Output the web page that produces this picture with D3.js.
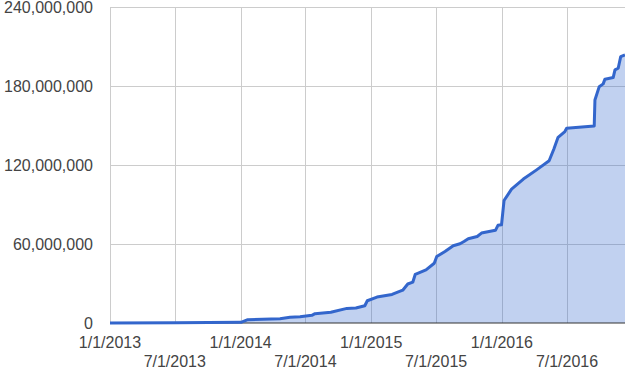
<!DOCTYPE html>
<html>
<head>
<meta charset="utf-8">
<script src="https://cdn.jsdelivr.net/npm/d3@7.9.0/dist/d3.min.js"></script>
<style>
  html, body { margin: 0; padding: 0; background: #fff; }
  svg { display: block; font-family: Arial, "Liberation Sans", sans-serif; }
</style>
</head>
<body>
<svg id="chart" width="625" height="371"></svg>
<script>
// data (cumulative total)
const dates = [
  "2013-01-01", "2013-07-04", "2014-01-02", "2014-01-21", "2014-04-21",
  "2014-05-19", "2014-06-16", "2014-07-19", "2014-07-28", "2014-09-10",
  "2014-10-25", "2014-11-19", "2014-12-14", "2014-12-21", "2015-01-17",
  "2015-02-28", "2015-03-30", "2015-04-13", "2015-04-27", "2015-05-04",
  "2015-06-03", "2015-06-26", "2015-07-03", "2015-07-26", "2015-08-18",
  "2015-09-06", "2015-09-17", "2015-09-29", "2015-10-24", "2015-11-05",
  "2015-12-14", "2015-12-21", "2015-12-31", "2016-01-07", "2016-01-28",
  "2016-03-01", "2016-04-07", "2016-05-12", "2016-05-25", "2016-06-06",
  "2016-06-25", "2016-06-30", "2016-09-15", "2016-09-17", "2016-09-29",
  "2016-10-10", "2016-10-15", "2016-11-07", "2016-11-12", "2016-11-21",
  "2016-11-28", "2016-12-10"
];
const totals = [
  0, 200000, 500000, 2500000, 3300000,
  4400000, 4800000, 5800000, 7100000, 8200000,
  11100000, 11400000, 13100000, 16900000, 19700000,
  21700000, 24900000, 29600000, 31000000, 37000000,
  40400000, 45400000, 50500000, 54300000, 58700000,
  60200000, 61900000, 64000000, 65700000, 68300000,
  70400000, 74200000, 74600000, 93000000, 101700000,
  109300000, 116300000, 123200000, 132000000, 141000000,
  145400000, 148000000, 149700000, 169400000, 179500000,
  181600000, 185200000, 186400000, 192200000, 193500000,
  202300000, 203600000
];
const yTicks = [0, 60000000, 120000000, 180000000, 240000000];
const xTicks = ["2013-01-01", "2013-07-01", "2014-01-01", "2014-07-01",
  "2015-01-01", "2015-07-01", "2016-01-01", "2016-07-01"];

const parse = d3.utcParse("%Y-%m-%d");
const data = dates.map((d, i) => ({ date: parse(d), value: totals[i] }));

const margin = { top: 7, right: 0, bottom: 48, left: 110 };
const width = 625, height = 371;

const svg = d3.select("#chart");

const x = d3.scaleUtc()
  .domain([parse(dates[0]), parse(dates[dates.length - 1])])
  .range([margin.left, width - margin.right]);
const y = d3.scaleLinear()
  .domain([0, 240000000])
  .range([height - margin.bottom, margin.top]);

// gridlines
svg.append("g")
  .selectAll("line")
  .data(yTicks.slice(1))
  .join("line")
  .attr("x1", margin.left)
  .attr("x2", width - margin.right)
  .attr("y1", (d) => Math.round(y(d)) + 0.5)
  .attr("y2", (d) => Math.round(y(d)) + 0.5)
  .attr("stroke", "#cccccc");

svg.append("g")
  .selectAll("line")
  .data(xTicks.map(parse))
  .join("line")
  .attr("x1", (d) => Math.round(x(d)) + 0.5)
  .attr("x2", (d) => Math.round(x(d)) + 0.5)
  .attr("y1", margin.top)
  .attr("y2", height - margin.bottom)
  .attr("stroke", "#cccccc");

// area + line
const area = d3.area()
  .x((d) => x(d.date))
  .y0(y(0))
  .y1((d) => y(d.value));
const line = d3.line()
  .x((d) => x(d.date))
  .y((d) => y(d.value));

svg.append("path")
  .datum(data)
  .attr("d", area)
  .attr("fill", "#3366cc")
  .attr("fill-opacity", 0.3);

// baseline
svg.append("line")
  .attr("x1", margin.left)
  .attr("x2", width - margin.right)
  .attr("y1", y(0))
  .attr("y2", y(0))
  .attr("stroke", "#333333")
  .attr("stroke-width", 1);

svg.append("path")
  .datum(data)
  .attr("d", line)
  .attr("fill", "none")
  .attr("stroke", "#3366cc")
  .attr("stroke-width", 3)
  .attr("stroke-linejoin", "round");

// y labels
svg.append("g")
  .selectAll("text")
  .data(yTicks)
  .join("text")
  .attr("x", 93)
  .attr("y", (d) => y(d) + 6)
  .attr("text-anchor", "end")
  .attr("font-size", 16)
  .attr("fill", "#444444")
  .text((d) => d3.format(",")(d));

// x labels, staggered over two rows
const fmt = (d) => `${d.getUTCMonth() + 1}/${d.getUTCDate()}/${d.getUTCFullYear()}`;
svg.append("g")
  .selectAll("text")
  .data(xTicks.map(parse))
  .join("text")
  .attr("x", (d) => x(d))
  .attr("y", (d, i) => (i % 2 === 0 ? 348 : 367))
  .attr("text-anchor", "middle")
  .attr("font-size", 16)
  .attr("fill", "#444444")
  .text(fmt);
</script>
</body>
</html>
